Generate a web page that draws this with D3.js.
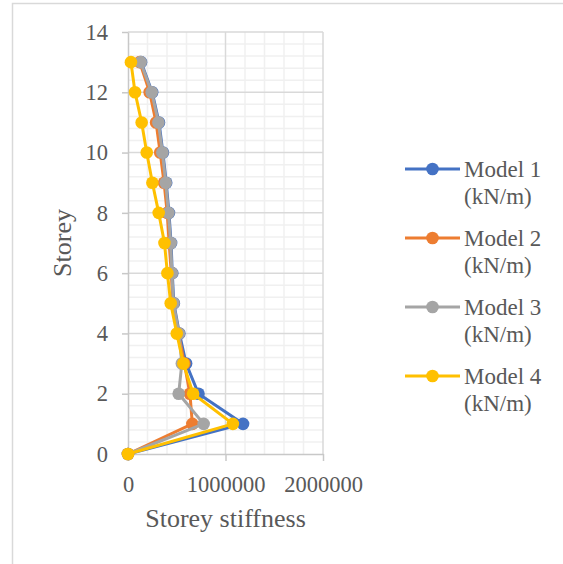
<!DOCTYPE html>
<html>
<head>
<meta charset="utf-8">
<script src="https://cdn.jsdelivr.net/npm/d3@7"></script>
<style>
  html, body { margin: 0; padding: 0; background: #fff; }
  svg { display: block; font-family: "Liberation Serif", "Times New Roman", serif; }
</style>
</head>
<body>
<div id="chart"></div>
<script>
// ---- Data ----
const storeys = [0, 1, 2, 3, 4, 5, 6, 7, 8, 9, 10, 11, 12, 13];
const model1 = [0, 1180000, 723000, 596000, 527000, 470000, 454000, 442000, 420000, 392000, 358000, 318000, 248000, 134000];
const model2 = [0, 660000, 635000, 578000, 518000, 460000, 444000, 422000, 402000, 370000, 330000, 288000, 222000, 120000];
const model3 = [0, 776000, 520000, 552000, 522000, 466000, 450000, 438000, 415000, 387000, 353000, 312000, 243000, 130000];
const model4 = [0, 1076000, 668000, 568000, 500000, 438000, 404000, 374000, 315000, 250000, 192000, 140000, 72000, 30000];
const seriesNames = ['Model 1', 'Model 2', 'Model 3', 'Model 4'];
const seriesColors = ['#4472C4', '#ED7D31', '#A5A5A5', '#FFC000'];
const xTicks = [0, 1000000, 2000000];
const yTicks = [0, 2, 4, 6, 8, 10, 12, 14];

const series = [model1, model2, model3, model4].map((vals, i) => ({
  name: seriesNames[i],
  color: seriesColors[i],
  points: storeys.map((s, j) => ({ storey: s, value: vals[j] }))
}));

// ---- Dimensions ----
const width = 563, height = 564;
const plot = { left: 128, right: 323, top: 32, bottom: 454 };
const textColor = '#595959';
const serif = '"Liberation Serif", "Times New Roman", serif';

const svg = d3.select('#chart').append('svg')
  .attr('width', width)
  .attr('height', height);

// outer chart border (runs off the right and bottom edges)
svg.append('rect')
  .attr('x', 12.5).attr('y', 3.5)
  .attr('width', 600).attr('height', 600)
  .attr('fill', '#fff')
  .attr('stroke', '#d9d9d9')
  .attr('stroke-width', 1.5);

// ---- Scales ----
const x = d3.scaleLinear().domain([0, 2000000]).range([plot.left, plot.right]);
const y = d3.scaleLinear().domain([0, 14]).range([plot.bottom, plot.top]);

// ---- Gridlines ----
const grid = svg.append('g').attr('class', 'grid');
const xMinor = d3.range(200000, 2000001, 200000).filter(v => v % 1000000 !== 0);
const yMinor = d3.range(0.4, 14.01, 0.4).map(v => +v.toFixed(1)).filter(v => Math.abs(v / 2 - Math.round(v / 2)) > 1e-6);

grid.selectAll('.xminor').data(xMinor).join('line')
  .attr('x1', d => x(d)).attr('x2', d => x(d))
  .attr('y1', plot.top).attr('y2', plot.bottom)
  .attr('stroke', '#f0f0f0').attr('stroke-width', 1.5);
grid.selectAll('.yminor').data(yMinor).join('line')
  .attr('x1', plot.left).attr('x2', plot.right)
  .attr('y1', d => y(d)).attr('y2', d => y(d))
  .attr('stroke', '#f0f0f0').attr('stroke-width', 1.5);
grid.selectAll('.xmajor').data(xTicks.slice(1)).join('line')
  .attr('x1', d => x(d)).attr('x2', d => x(d))
  .attr('y1', plot.top).attr('y2', plot.bottom)
  .attr('stroke', '#d9d9d9').attr('stroke-width', 1.5);
grid.selectAll('.ymajor').data(yTicks.slice(1)).join('line')
  .attr('x1', plot.left).attr('x2', plot.right)
  .attr('y1', d => y(d)).attr('y2', d => y(d))
  .attr('stroke', '#d9d9d9').attr('stroke-width', 1.5);

// ---- Axes ----
const yAxis = svg.append('g')
  .attr('transform', `translate(${plot.left},0)`)
  .call(d3.axisLeft(y).tickValues(yTicks).tickSize(6).tickSizeOuter(0).tickPadding(14));
const xAxis = svg.append('g')
  .attr('transform', `translate(0,${plot.bottom})`)
  .call(d3.axisBottom(x).tickValues(xTicks).tickSize(7).tickSizeOuter(0).tickPadding(15).tickFormat(d3.format('d')));

[xAxis, yAxis].forEach(ax => {
  ax.attr('font-family', serif).attr('font-size', 22.5);
  ax.select('.domain').attr('stroke', '#c8c8c8').attr('stroke-width', 1.5);
  ax.selectAll('.tick line').attr('stroke', '#c8c8c8').attr('stroke-width', 1.5);
  ax.selectAll('.tick text')
    .attr('fill', textColor)
    .attr('font-family', serif)
    .attr('font-size', 22.5);
});

// axis titles
svg.append('text')
  .attr('x', (plot.left + plot.right) / 2)
  .attr('y', 527)
  .attr('text-anchor', 'middle')
  .attr('fill', textColor)
  .attr('font-family', serif)
  .attr('font-size', 26)
  .text('Storey stiffness');

svg.append('text')
  .attr('transform', `translate(71,${(plot.top + plot.bottom) / 2}) rotate(-90)`)
  .attr('text-anchor', 'middle')
  .attr('fill', textColor)
  .attr('font-family', serif)
  .attr('font-size', 26)
  .text('Storey');

// ---- Lines and markers ----
const line = d3.line().x(d => x(d.value)).y(d => y(d.storey));

const seriesG = svg.append('g').attr('class', 'series')
  .selectAll('g').data(series).join('g');

seriesG.append('path')
  .attr('d', d => line(d.points))
  .attr('fill', 'none')
  .attr('stroke', d => d.color)
  .attr('stroke-width', 3)
  .attr('stroke-linejoin', 'round');

seriesG.selectAll('circle')
  .data(d => d.points.map(p => ({ ...p, color: d.color })))
  .join('circle')
  .attr('cx', d => x(d.value))
  .attr('cy', d => y(d.storey))
  .attr('r', 6.3)
  .attr('fill', d => d.color);

// ---- Legend ----
const legend = svg.append('g').attr('class', 'legend');
const legendY = i => 169 + i * 69;
const legendItems = legend.selectAll('g').data(series).join('g')
  .attr('transform', (d, i) => `translate(0,${legendY(i)})`);

legendItems.append('line')
  .attr('x1', 405).attr('x2', 460)
  .attr('y1', 0).attr('y2', 0)
  .attr('stroke', d => d.color)
  .attr('stroke-width', 3);
legendItems.append('circle')
  .attr('cx', 432.5).attr('cy', 0)
  .attr('r', 6.3)
  .attr('fill', d => d.color);
legendItems.append('text')
  .attr('x', 464).attr('y', 8)
  .attr('fill', textColor)
  .attr('font-family', serif)
  .attr('font-size', 23)
  .text(d => d.name);
legendItems.append('text')
  .attr('x', 464).attr('y', 35)
  .attr('fill', textColor)
  .attr('font-family', serif)
  .attr('font-size', 23)
  .text('(kN/m)');
</script>
</body>
</html>
